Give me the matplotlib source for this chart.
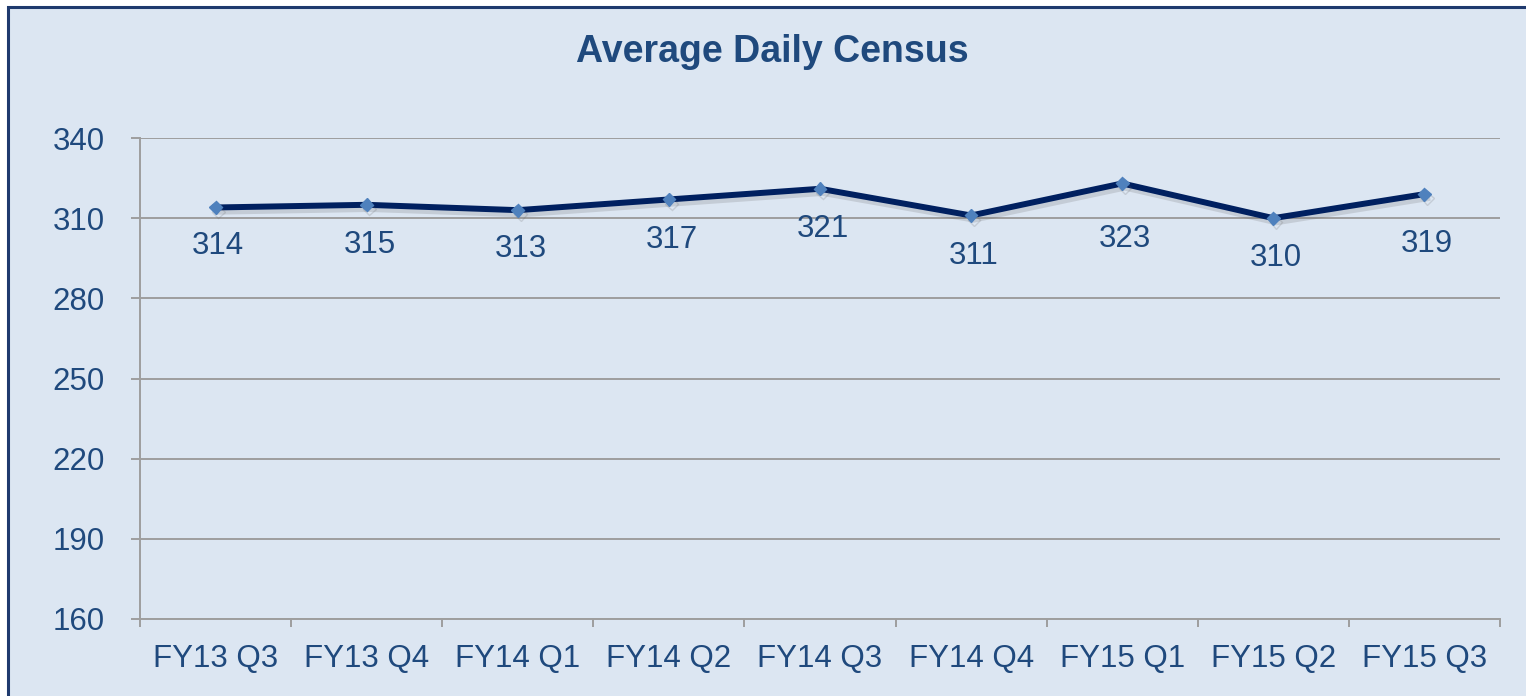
import matplotlib
matplotlib.use("Agg")
import matplotlib.pyplot as plt
import matplotlib.patheffects as pe
from matplotlib.patches import Rectangle

# Data
quarters = ['FY13 Q3', 'FY13 Q4', 'FY14 Q1', 'FY14 Q2', 'FY14 Q3',
            'FY14 Q4', 'FY15 Q1', 'FY15 Q2', 'FY15 Q3']
census = [314, 315, 313, 317, 321, 311, 323, 310, 319]
y_ticks = [160, 190, 220, 250, 280, 310, 340]

# label distance below each point (points), mimics Excel's placement
label_offsets = [-28, -29, -28, -29, -29, -29, -40, -29, -36]

bg = '#DCE6F2'
text_color = '#1F497D'
grid_color = '#9E9E9E'

plt.rcParams['font.family'] = ['Liberation Sans', 'DejaVu Sans']

fig = plt.figure(figsize=(15.26, 6.96), dpi=100)
fig.patch.set_facecolor('white')

# chart area with dark border on top/left
fig.patches.append(Rectangle((8 / 1526, -0.05), 1.1, (696 - 7) / 696 + 0.05,
                             transform=fig.transFigure, facecolor=bg,
                             edgecolor='#1F3A6E', linewidth=2.2, zorder=-5))

ax = fig.add_axes([140 / 1526, 77 / 696, 1360 / 1526, 481 / 696])
ax.set_facecolor('none')
ax.set_zorder(2)

x = list(range(len(quarters)))
ax.plot(x, census, color='#002060', linewidth=4.3, marker='D', markersize=6.5,
        markerfacecolor='#4F81BD', markeredgecolor='#4F81BD', zorder=3,
        path_effects=[pe.SimpleLineShadow(offset=(2, -3), shadow_color='#666666', alpha=0.2),
                      pe.Normal()])

for xi, v, off in zip(x, census, label_offsets):
    ax.annotate(str(v), (xi, v), xytext=(2, off), textcoords='offset points',
                ha='center', va='center', fontsize=22.5, color=text_color)

ax.set_xlim(-0.5, len(quarters) - 0.5)
ax.set_ylim(160, 340)
ax.set_yticks(y_ticks)
ax.set_yticklabels([str(t) for t in y_ticks], fontsize=22.5, color=text_color)
ax.set_xticks(x)
ax.set_xticklabels(quarters, fontsize=22.5, color=text_color)
ax.set_xticks([i - 0.5 for i in range(len(quarters) + 1)], minor=True)

ax.tick_params(axis='x', which='major', length=0, pad=18)
ax.tick_params(axis='x', which='minor', length=6, width=1.4, color=grid_color, direction='out')
ax.tick_params(axis='y', length=6.5, width=1.4, color=grid_color, pad=19)

ax.grid(True, axis='y', color=grid_color, linewidth=1.4)
ax.set_axisbelow(True)
for side in ['top', 'right']:
    ax.spines[side].set_visible(False)
for side in ['left', 'bottom']:
    ax.spines[side].set_color(grid_color)
    ax.spines[side].set_linewidth(1.4)

fig.text(772 / 1526, 1 - 52 / 696, 'Average Daily Census', ha='center', va='center',
         fontsize=27, fontweight='bold', color=text_color)

fig.savefig('out.png', dpi=100)
